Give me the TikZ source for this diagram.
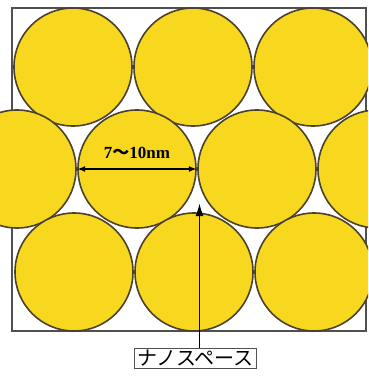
\documentclass[tikz,border=0pt]{standalone}
\usepackage{fontspec}
\setmainfont{Liberation Serif}
\newfontfamily\cjk{Noto Sans CJK JP}
\usetikzlibrary{arrows.meta}
\definecolor{ballfill}{RGB}{248,216,30}
\definecolor{balledge}{RGB}{75,65,45}
\definecolor{framegray}{RGB}{80,80,80}
\begin{document}
\begin{tikzpicture}[x=1pt,y=-1pt,
  ball/.style={circle,fill=ballfill,draw=balledge,line width=1.6pt,minimum size=118pt,inner sep=0pt},
  dimarrow/.style={{Latex[length=8pt,width=6pt]}-{Latex[length=8pt,width=6pt]},line width=1.8pt},
  pointer/.style={-{Latex[length=13pt,width=8pt]},line width=1.8pt},
  tagbox/.style={draw=framegray,line width=1pt,fill=white,inner xsep=3pt,inner ysep=2pt,font=\cjk\fontsize{20}{22}\selectfont}]
\useasboundingbox (0,0) rectangle (368,376);
\fill[white] (0,0) rectangle (368,376);
\begin{scope}
\clip (0,0) rectangle (368,376);
\draw[framegray,line width=1.1pt] (12,8) rectangle (366,331);
\node[ball] (b11) at (73,67) {};
\node[ball] (b12) at (193,67) {};
\node[ball] (b13) at (313,67) {};
\node[ball] (b21) at (17,169) {};
\node[ball] (b22) at (137,169) {};
\node[ball] (b23) at (257,169) {};
\node[ball] (b24) at (377,169) {};
\node[ball] (b31) at (74,272) {};
\node[ball] (b32) at (194,272) {};
\node[ball] (b33) at (314,272) {};
\draw[dimarrow] (b22.west) -- (b22.east);
\node[font=\bfseries\fontsize{17}{19}\selectfont] (dim) at (137,153) {7{\cjk〜}10nm};
\coordinate (gap) at (199.5,203);
\node[tagbox,anchor=north] (tag) at (195.5,348) {ナノスペース};
\draw[pointer] (tag.north -| gap) -- (gap);
\end{scope}
\end{tikzpicture}
\end{document}
